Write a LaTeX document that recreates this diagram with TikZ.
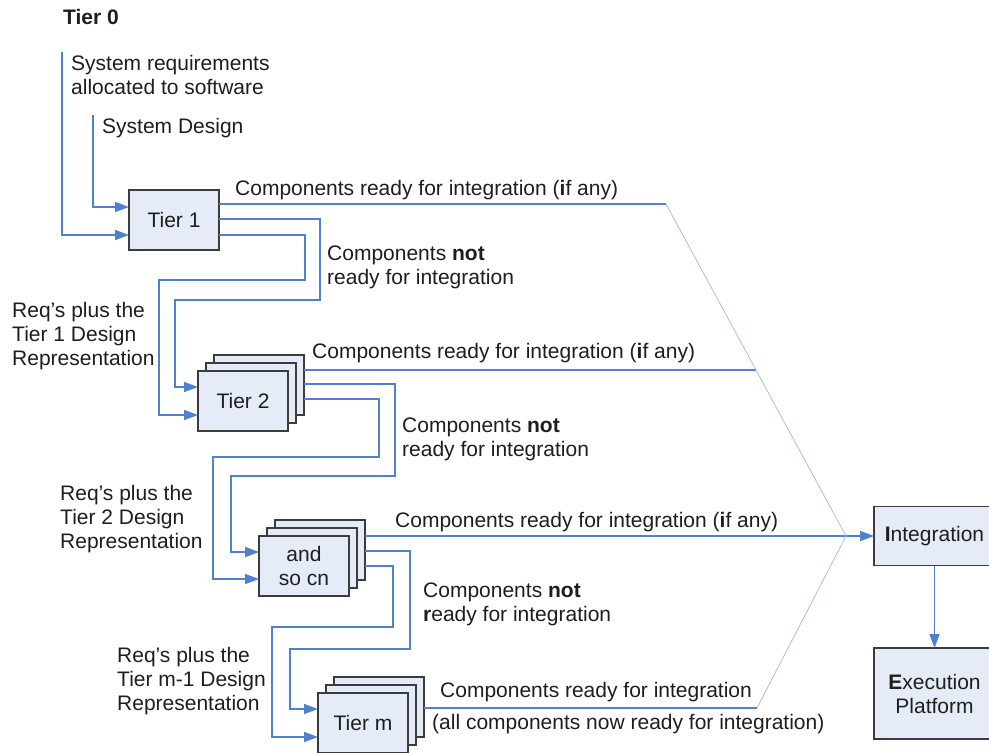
\documentclass[tikz,border=0pt]{standalone}
\usepackage{fontspec}
\setmainfont{Liberation Sans}
\usetikzlibrary{arrows.meta}
\definecolor{flowblue}{HTML}{4F81D0}
\definecolor{fanblue}{HTML}{A9C0EA}
\definecolor{boxfill}{HTML}{E5EBF7}
\definecolor{boxline}{HTML}{3C3C3C}
\definecolor{ink}{HTML}{1E1E1E}

\begin{document}
\begin{tikzpicture}[x=1pt,y=-1pt,
  every node/.style={font=\fontsize{21}{24}\selectfont, text=ink},
  tierbox/.style={draw=boxline, fill=boxfill, line width=1.5pt,
    minimum width=90pt, minimum height=60pt, inner sep=0pt, outer sep=0pt,
    align=center},
  flow/.style={draw=flowblue, line width=1.7pt},
  flowarrow/.style={flow, -{Triangle[length=14pt,width=10pt]}},
  fan/.style={draw=fanblue, line width=0.8pt},
  % base of a multi-line label is the baseline of its last line
  txt/.style={anchor=base west, inner sep=0pt, align=left},
]
% canvas
\fill[white] (0,0) rectangle (989,753);
\useasboundingbox (0,0) rectangle (989,753);

% tier boxes (stacks: back layer first)
\node[tierbox] (t1) at (174,220) {Tier 1};

\node[tierbox] (t2c) at (259,385) {};
\node[tierbox] (t2b) at (251,393) {};
\node[tierbox] (t2)  at (243,401) {Tier 2};

\node[tierbox] (t3c) at (320,550) {};
\node[tierbox] (t3b) at (312,558) {};
\node[tierbox] (t3)  at (304,566) {and\\so cn};

\node[tierbox] (tmc) at (379,707) {};
\node[tierbox] (tmb) at (371,715) {};
\node[tierbox] (tm)  at (363,723) {Tier m};

\node[tierbox, minimum width=121pt, minimum height=59pt] (integ) at (934.5,536) {\textbf{I}ntegration};
\node[tierbox, minimum width=121pt, minimum height=91pt] (exec) at (934.5,693.5) {\textbf{E}xecution\\Platform};

% waypoints
\coordinate (reqtop) at (62,52);
\coordinate (destop) at (93,115);
\coordinate (fan1) at (666,204);
\coordinate (fan2) at (756,370);
\coordinate (fan4) at (757,708);
\coordinate (hub)  at (846,536);

% labels
\node[txt] (tier0) at (63,24) {\bfseries Tier 0};
\node[txt] (sysreq) at (71,94) {System requirements\\allocated to software};
\node[txt] (sysdes) at (102,133) {System Design};

\node[txt] (r1) at (235,195) {Components ready for integration (\textbf{i}f any)};
\node[txt] (n1) at (327,284) {Components \textbf{not}\\ready for integration};
\node[txt] (q1) at (12,365) {Req's plus the\\Tier 1 Design\\Representation};

\node[txt] (r2) at (312,358) {Components ready for integration (\textbf{i}f any)};
\node[txt] (n2) at (402,456) {Components \textbf{not}\\ready for integration};
\node[txt] (q2) at (60,548) {Req's plus the\\Tier 2 Design\\Representation};

\node[txt] (r3) at (395,527) {Components ready for integration (\textbf{i}f any)};
\node[txt] (n3) at (423,621) {Components \textbf{not}\\\textbf{r}eady for integration};
\node[txt] (q3) at (117,710) {Req's plus the\\Tier m-1 Design\\Representation};

\node[txt] (rm) at (440,697) {Components ready for integration};
\node[txt] (am) at (432,729) {(all components now ready for integration)};

% inputs to Tier 1
\draw[flowarrow] (reqtop) |- ([yshift=-15]t1.west);
\draw[flowarrow] (destop) |- ([yshift=13]t1.west);

% Tier 1 outputs
\draw[flow] ([yshift=16]t1.east) -- (fan1);
\draw[flowarrow] ([yshift=1]t1.east) -| (320,300) -| (175,387) -- ([yshift=14]t2.west);
\draw[flowarrow] ([yshift=-15]t1.east) -| (305,280) -| (159,415) -- ([yshift=-14]t2.west);

% Tier 2 outputs
\draw[flow] ([yshift=15]t2c.east) -- (fan2);
\draw[flowarrow] ([yshift=1]t2c.east) -| (395,476) -| (231,552) -- ([yshift=14]t3.west);
\draw[flowarrow] ([yshift=-14]t2c.east) -| (379,457) -| (213,579) -- ([yshift=-13]t3.west);

% Tier 3 outputs
\draw[flowarrow] ([yshift=14]t3c.east) -- (integ.west);
\draw[flowarrow] ([yshift=-1]t3c.east) -| (410,649) -| (290,709) -- ([yshift=14]tm.west);
\draw[flowarrow] ([yshift=-16]t3c.east) -| (393,627) -| (272,737) -- ([yshift=-14]tm.west);

% Tier m output
\draw[flow] ([yshift=-1]tmc.east) -- (fan4);

% fan-in to integration
\draw[fan] (fan1) -- (hub);
\draw[fan] (fan4) -- (hub);

% integration to execution platform
\draw[flowarrow] (integ.south) -- (exec.north);
\end{tikzpicture}
\end{document}
